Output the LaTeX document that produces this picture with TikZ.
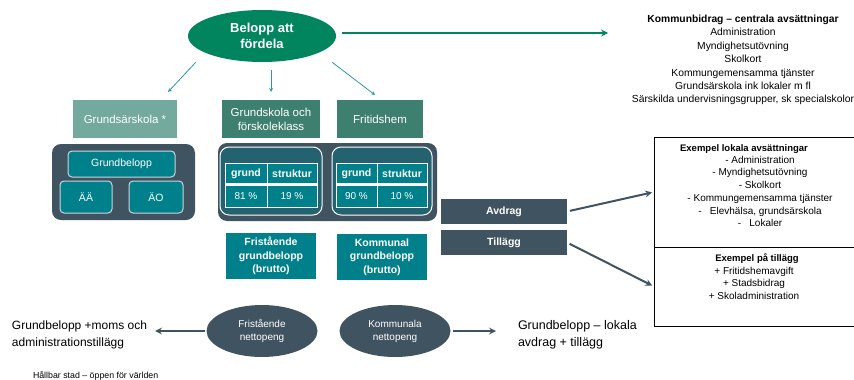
\documentclass[tikz,border=0pt]{standalone}
\usepackage{fontspec}
\setmainfont{Liberation Sans}
\usetikzlibrary{arrows,shapes.geometric}
\definecolor{kgreen}{RGB}{0,133,95}
\definecolor{sage}{RGB}{116,169,158}
\definecolor{pine}{RGB}{62,128,112}
\definecolor{slate}{RGB}{64,83,97}
\definecolor{kteal}{RGB}{0,128,138}
\definecolor{deepteal}{RGB}{36,98,112}
\definecolor{thinteal}{RGB}{40,152,168}
\definecolor{rimgray}{RGB}{205,214,218}
\newcommand{\fsz}[2]{\fontsize{#1}{#2}\selectfont}
\tikzset{%
    >=stealth, % option for nice arrows
    inner sep=0pt,%
    outer sep=0pt,%
    headbox/.style={rectangle,anchor=north west,minimum height=38,text=white,
      align=center,font=\fsz{11.5}{14}},%
    panel/.style={rectangle,anchor=north west,rounded corners=9,fill=slate},%
    tealbox/.style={rectangle,anchor=north west,rounded corners=4,fill=kteal,
      draw=rimgray,line width=1,text=white,font=\fsz{10.5}{13}},%
    innerbox/.style={rectangle,anchor=north west,rounded corners=9,fill=deepteal,
      draw=white,line width=1},%
    headcell/.style={rectangle,anchor=north west,fill=kteal,draw=white,line width=0.6,
      minimum height=21,text=white,font=\bfseries\fsz{10.5}{13}},%
    valcell/.style={headcell,minimum height=22,font=\fsz{10}{12}},%
    brutto/.style={rectangle,anchor=north west,fill=kteal,minimum width=90,
      minimum height=46,text=white,align=center,font=\bfseries\fsz{10.5}{13.5}},%
    slatebox/.style={rectangle,anchor=north west,fill=slate,minimum width=126,
      minimum height=25,text=white,font=\bfseries\fsz{10.5}{13}},%
    netto/.style={ellipse,fill=slate,minimum width=111,minimum height=52,text=white,
      align=center,font=\fsz{10}{13}},%
    listbox/.style={rectangle,draw=black,line width=0.6,anchor=north west,
      minimum width=220},%
    listtext/.style={anchor=north,align=center,font=\fsz{10}{12.7}},%
    tarrow/.style={->,thinteal,line width=0.8},%
    darrow/.style={->,slate,line width=2},%
}
\begin{document}
\begin{tikzpicture}[x=1pt,y=-1pt]
    \useasboundingbox (0,0) rectangle (854,380);
    \clip (0,0) rectangle (854,380);

    % top
    \node[ellipse,fill=kgreen,minimum width=148,minimum height=52,text=white,
      align=center,font=\bfseries\fsz{13}{16.5}] (belopp) at (262,36) {Belopp att\\f\"ordela};
    \coordinate (centralin) at (608,33);
    \draw[->,kgreen,line width=2] ([shift={(6,-3)}]belopp.east) -- (centralin);
    \node[anchor=north,align=center,font=\fsz{10.3}{13.4}] (central) at (743,15)
      {\textbf{Kommunbidrag -- centrala avs\"attningar}\\Administration\\
       Myndighetsut\"ovning\\Skolkort\\Kommungemensamma tj\"anster\\
       Grunds\"arskola ink lokaler m fl\\
       S\"arskilda undervisningsgrupper, sk specialskolor};

    \node[headbox,fill=sage,minimum width=104] (gsar) at (73,100) {Grunds\"arskola *};
    \node[headbox,fill=pine,minimum width=98] (grund) at (222,100) {Grundskola och\\f\"orskoleklass};
    \node[headbox,fill=pine,minimum width=86] (fritid) at (337,100) {Fritidshem};

    \draw[tarrow] ([shift={(-14,8)}]belopp.south west) -- ([shift={(-9,-8)}]gsar.north east);
    \draw[tarrow,shorten <=8,shorten >=8] (grund.north |- belopp.south) -- (grund.north);
    \draw[tarrow] ([shift={(18,8)}]belopp.south east) -- ([shift={(-5,-5)}]fritid.north);

    % grundsarskola
    \node[panel,minimum width=143,minimum height=76] (gsarpanel) at (52,144) {};
    \node[tealbox,minimum width=107,minimum height=26] (gbelopp) at (68,151) {Grundbelopp};
    \node[tealbox,minimum width=52,minimum height=32] (aa) at (60,181) {\"A\"A};
    \node[tealbox,minimum width=54,minimum height=32] (ao) at (129,181) {\"AO};

    % grundskola och fritidshem
    \node[panel,minimum width=219,minimum height=78] (gspanel) at (218,143) {};
    \node[innerbox,minimum width=102,minimum height=68] (gsin) at (220,147) {};
    \node[innerbox,minimum width=100,minimum height=68] (frin) at (332,147) {};

    \node[headcell,minimum width=42] (lgrund) at (225,163) {grund};
    \node[headcell,minimum width=50] (lstrukt) at (lgrund.north east) {struktur};
    \node[valcell,minimum width=42] (lval) at (225,185) {81 \%};
    \node[valcell,minimum width=50] (lvalb) at (lval.north east) {19 \%};
    \draw[white,line width=1.8] (lgrund.south west) -- (lstrukt.south east);

    \node[headcell,minimum width=41] (rgrund) at (336,163) {grund};
    \node[headcell,minimum width=50] (rstrukt) at (rgrund.north east) {struktur};
    \node[valcell,minimum width=41] (rval) at (336,185) {90 \%};
    \node[valcell,minimum width=50] (rvalb) at (rval.north east) {10 \%};
    \draw[white,line width=1.8] (rgrund.south west) -- (rstrukt.south east);

    \node[brutto] (fbrutto) at (226,233) {Frist\aa ende\\grundbelopp\\(brutto)};
    \node[brutto] (kbrutto) at (337,234) {Kommunal\\grundbelopp\\(brutto)};

    % avdrag och tillagg
    \node[slatebox] (avdrag) at (441,199) {Avdrag};
    \node[slatebox] (tillagg) at (441,230) {Till\"agg};

    \node[listbox,minimum height=110] (lokal) at (654,137) {};
    \node[listbox,minimum height=79] (exempel) at (lokal.south west) {};
    \node[listtext,font=\bfseries\fsz{9.5}{12.7}] (lokalrub) at (744,145) {Exempel lokala avs\"attningar};
    \node[listtext] (lokallist) at (760,156) {- Administration\\- Myndighetsut\"ovning\\
      - Skolkort\\- Kommungemensamma tj\"anster\\-\ \ \ Elevh\"alsa, grunds\"arskola\\
      -\ \ \ Lokaler};
    \node[listtext,font=\bfseries\fsz{9.5}{12.7}] (exrub) at (757,254) {Exempel p\aa{} till\"agg};
    \node[listtext] (exlist) at (754,267) {+ Fritidshemavgift\\+ Stadsbidrag\\
      + Skoladministration};

    \draw[darrow,shorten <=3,shorten >=2] (avdrag.east) -- (lokal.west);
    \draw[darrow,shorten <=3,shorten >=2] (tillagg.east) -- (exempel.west);

    % nettopeng
    \node[netto] (fnetto) at (262,331) {Frist\aa ende\\nettopeng};
    \node[netto] (knetto) at (395,331) {Kommunala\\nettopeng};
    \node[anchor=west,align=left,font=\fsz{12}{17}] (fritxt) at (12,334.5)
      {Grundbelopp +moms och\\administrationstill\"agg};
    \node[anchor=west,align=left,font=\fsz{12.5}{17}] (kommtxt) at (518,334.5)
      {Grundbelopp -- lokala\\avdrag + till\"agg};
    \draw[darrow,shorten <=2,shorten >=8] (fnetto.west) -- (fritxt.east |- fnetto.west);
    \draw[darrow,shorten <=2,shorten >=22] (knetto.east) -- (kommtxt.west |- knetto.east);

    \node[anchor=west,font=\fsz{8.8}{10}] (hallbar) at (33,376) {H\aa llbar stad -- \"oppen f\"or v\"arlden};
\end{tikzpicture}
\end{document}
